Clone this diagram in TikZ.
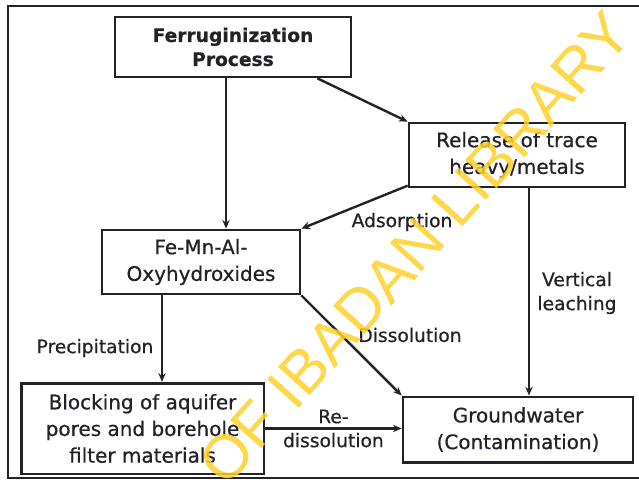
\documentclass[tikz,border=0pt]{standalone}
\usepackage{fontspec}
\setmainfont{DejaVu Sans}[FakeBold=0.6]
\newfontfamily\wmfont{Liberation Sans}
\usetikzlibrary{arrows.meta}
\definecolor{ink}{RGB}{34,34,40}
\definecolor{wmyellow}{RGB}{255,208,40}

\begin{document}
\begin{tikzpicture}[x=0.75pt, y=-0.75pt, line width=2pt, color=ink,
  box/.style={draw=ink, rectangle, inner sep=0pt, align=center, font=\fontsize{15}{20}\selectfont},
  lbl/.style={align=center, font=\fontsize{14}{18}\selectfont},
  arr/.style={-{Stealth[length=6.5pt, width=5.5pt]}, line width=1.8pt}]
\useasboundingbox (0,0) rectangle (639,485);
\fill[white] (0,0) rectangle (639,485);
\draw (639,6) -- (8,6) -- (8,478) -- (639,478);

\node[box, minimum width=177pt, minimum height=45pt, font=\bfseries\fontsize{14}{18}\selectfont] (A) at (233,47) {Ferruginization\\Process};
\node[box, minimum width=162pt, minimum height=48pt] (B) at (517,155) {Release of trace\\heavy/metals};
\node[box, minimum width=148.5pt, minimum height=48pt] (C) at (201,262) {Fe-Mn-Al-\\Oxyhydroxides};
\node[box, minimum width=182pt, minimum height=68pt] (D) at (142.5,428.5) {Blocking of aquifer\\pores and borehole\\filter materials};
\node[box, minimum width=172.5pt, minimum height=49pt] (E) at (518,429.5) {Groundwater\\(Contamination)};

\draw[arr] ([xshift=-5.25pt]A.south) -- ([xshift=-5.25pt]A.south |- C.north);
\draw[arr] ([xshift=-26.25pt]A.south east) -- (B.north west);
\draw[arr] ([yshift=2pt]B.south west) -- (C.north east);
\draw[arr] (C.south east) -- (E.north west);
\draw[arr] ([xshift=-29.25pt]C.south) -- ([xshift=-29.25pt]C.south |- D.north);
\draw[arr] ([xshift=9pt]B.south) -- ([xshift=9pt]B.south |- E.north);
\draw[arr] (D.east) -- (D.east -| E.west) node[lbl, midway] {Re-\\dissolution};

\node[lbl] (F) at (402,222) {Adsorption};
\node[lbl] (G) at (577,293) {Vertical\\leaching};
\node[lbl] (H) at (410,335) {Dissolution};
\node[lbl] (I) at (95,348) {Precipitation};

\node[font=\wmfont\fontsize{46}{46}\selectfont, text=wmyellow, opacity=0.85, rotate=48] (W) at (415,248) {OF IBADAN LIBRARY};
\end{tikzpicture}
\end{document}
